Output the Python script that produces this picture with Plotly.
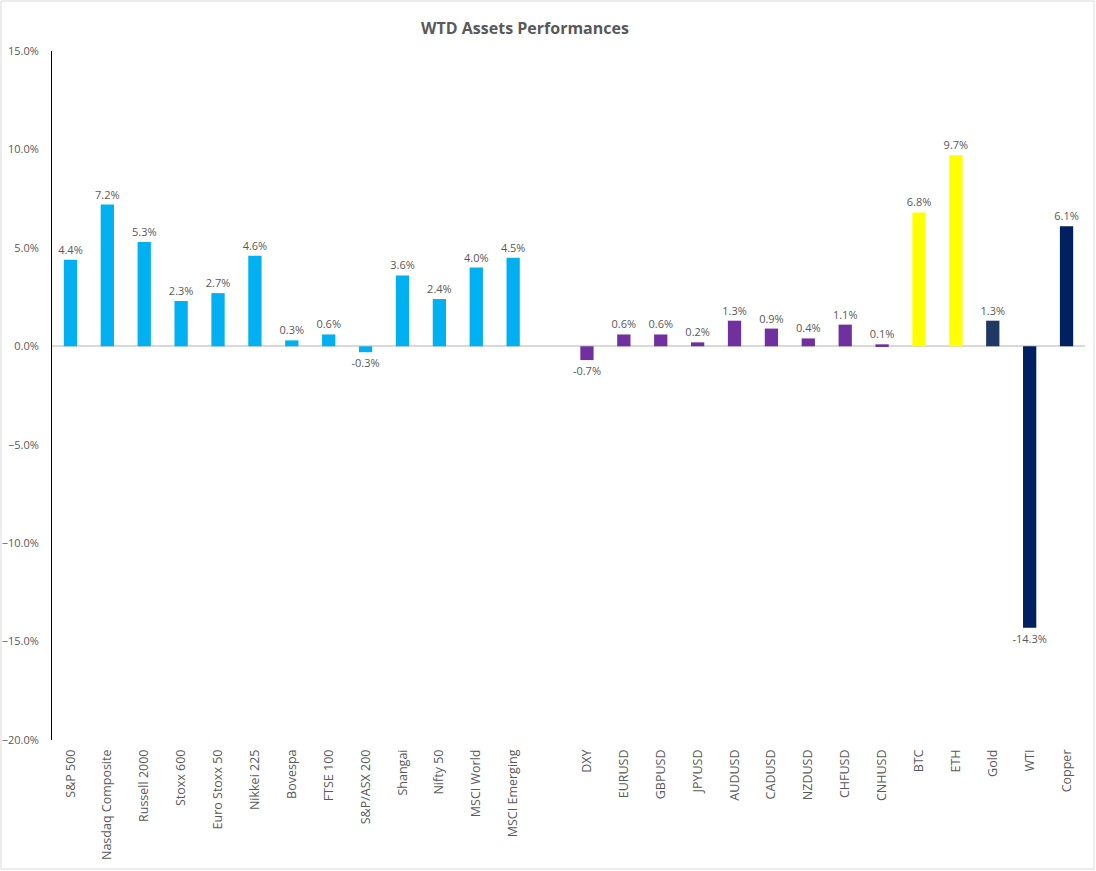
import plotly.graph_objects as go

categories = ["S&P 500", "Nasdaq Composite", "Russell 2000", "Stoxx 600", "Euro Stoxx 50",
              "Nikkei 225", "Bovespa", "FTSE 100", "S&P/ASX 200", "Shangai", "Nifty 50",
              "MSCI World", "MSCI Emerging", " ",
              "DXY", "EURUSD", "GBPUSD", "JPYUSD", "AUDUSD", "CADUSD", "NZDUSD", "CHFUSD",
              "CNHUSD", "BTC", "ETH", "Gold", "WTI", "Copper"]
values = [4.4, 7.2, 5.3, 2.3, 2.7, 4.6, 0.3, 0.6, -0.3, 3.6, 2.4, 4.0, 4.5, None,
          -0.7, 0.6, 0.6, 0.2, 1.3, 0.9, 0.4, 1.1, 0.1, 6.8, 9.7, 1.3, -14.3, 6.1]
groups = ["eq"] * 13 + ["gap"] + ["fx"] * 9 + ["crypto"] * 2 + ["gold", "oil", "oil"]

group_colors = {"eq": "#00B0F0", "gap": "#FFFFFF", "fx": "#7030A0", "crypto": "#FFFF00",
                "gold": "#1F3864", "oil": "#002060"}

yvals = [None if v is None else v / 100 for v in values]
texts = ["" if v is None else f"{v:.1f}%" for v in values]
colors = [group_colors[g] for g in groups]

fig = go.Figure(go.Bar(
    x=categories, y=yvals, marker_color=colors, marker_line_width=0,
    text=texts, textposition="outside", cliponaxis=False, constraintext="none",
    textfont=dict(family="Open Sans", size=11, color="#595959"),
    hoverinfo="x+y",
))

fig.update_layout(
    width=1096, height=871,
    margin=dict(l=52, r=11, t=51, b=131),
    paper_bgcolor="white", plot_bgcolor="white",
    bargap=0.64,
    showlegend=False,
    title=dict(text="<b>WTD Assets Performances</b>", x=525 / 1096, xref="container",
               xanchor="center", y=1 - 28 / 871, yanchor="middle",
               font=dict(family="Open Sans", size=16, color="#595959")),
    font=dict(family="Open Sans", color="#595959"),
    xaxis=dict(type="category", tickangle=-90, tickfont=dict(size=12.5, color="#595959"),
               showgrid=False, showline=False, ticks="", range=[-0.5, 27.5],
               ticklabelstandoff=6, automargin=False),
    yaxis=dict(range=[-0.20, 0.15], tickvals=[-0.20, -0.15, -0.10, -0.05, 0, 0.05, 0.10, 0.15],
               tickformat=".1%", tickfont=dict(size=11, color="#595959"),
               showgrid=False, showline=True, linecolor="black", linewidth=1,
               zeroline=True, zerolinecolor="#D9D9D9", zerolinewidth=1.5, ticks="",
               ticklabelstandoff=10, automargin=False),
)

fig.add_shape(type="rect", xref="paper", yref="paper",
              x0=(1 - 52) / 1033, x1=(1094 - 52) / 1033,
              y0=(871 - 869 - 131) / 689, y1=(871 - 1 - 131) / 689,
              line=dict(color="#D9D9D9", width=1), fillcolor="rgba(0,0,0,0)", layer="below")

fig.write_html("out.html", config={"displayModeBar": False},
               post_script="document.body.style.margin='0px';document.body.style.overflow='hidden';")
